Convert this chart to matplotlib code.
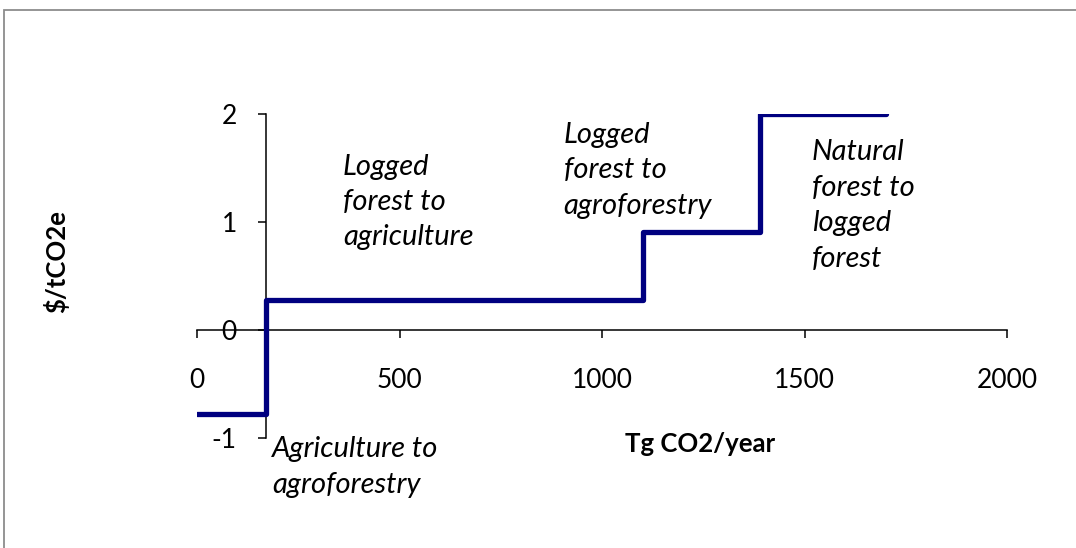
import matplotlib
matplotlib.use("Agg")
import matplotlib.pyplot as plt
from matplotlib.patches import Rectangle

plt.rcParams['font.family'] = ['Lato', 'DejaVu Sans']
plt.rcParams['axes.unicode_minus'] = False

# Marginal abatement cost steps
edges = [0, 170, 1100, 1390, 1700]          # Tg CO2/year
costs = [-0.78, 0.28, 0.91, 2.0]            # $/tCO2e
y_axis_cross = 170

x_ticks = [0, 500, 1000, 1500, 2000]
y_ticks = [-1, 0, 1, 2]

labels = [
    (185, -1.27, "Agriculture to\nagroforestry"),
    (360, 1.185, "Logged\nforest to\nagriculture"),
    (905, 1.48, "Logged\nforest to\nagroforestry"),
    (1518, 1.153, "Natural\nforest to\nlogged\nforest"),
]

W, H = 1076, 548
fig = plt.figure(figsize=(W / 100, H / 100), dpi=100)

# outer chart border
fig.patches.append(Rectangle((3.5 / W, -0.1), 1.2, 1 - 9.5 / H + 0.1,
                             transform=fig.transFigure, fill=False,
                             edgecolor='#8c8c8c', linewidth=1.3))

x0, x1 = 197, 1007
yb, yt = 438, 114
ax = fig.add_axes([x0 / W, 1 - yb / H, (x1 - x0) / W, (yb - yt) / H])
ax.set_xlim(0, 2000)
ax.set_ylim(-1, 2)
ax.patch.set_alpha(0)

ax.stairs(costs, edges, baseline=None, color='#000080', linewidth=3.8,
          joinstyle='round', capstyle='round', zorder=3)

for s in ('top', 'right'):
    ax.spines[s].set_visible(False)
ax.spines['left'].set_position(('data', y_axis_cross))
ax.spines['bottom'].set_position(('data', 0))
for s in ('left', 'bottom'):
    ax.spines[s].set_linewidth(1.1)
    ax.spines[s].set_color('black')

ax.set_xticks(x_ticks)
ax.set_yticks(y_ticks)
ax.tick_params(axis='x', direction='out', length=6, width=1.1, pad=21,
               labelsize=19)
ax.tick_params(axis='y', direction='out', length=6, width=1.1, pad=15,
               labelsize=19)

for x, y, t in labels:
    ax.text(x, y, t, fontsize=21, style='italic', ha='left', va='center',
            linespacing=1.45)

fig.text(700 / W, 1 - 444 / H, "Tg CO2/year", fontsize=18.5,
         fontweight='bold', ha='center', va='center')
fig.text(56 / W, 1 - 262 / H, "$/tCO2e", fontsize=18.5, fontweight='bold',
         rotation=90, ha='center', va='center')

fig.savefig("out.png", dpi=100)
